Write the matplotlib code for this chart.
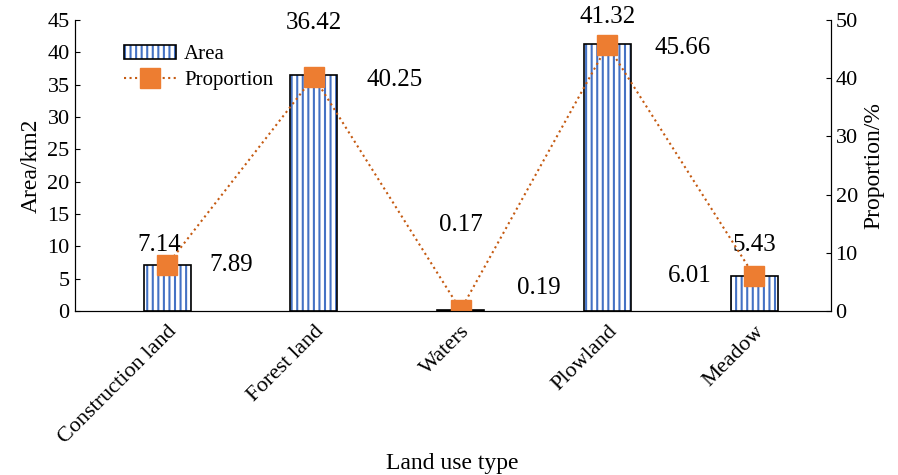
import numpy as np
import matplotlib.pyplot as plt
from matplotlib.patches import Patch

plt.rcParams['font.family'] = 'Liberation Serif'
plt.rcParams['hatch.linewidth'] = 1.5

categories = ['Construction land', 'Forest land', 'Waters', 'Plowland', 'Meadow']
area = [7.14, 36.42, 0.17, 41.32, 5.43]
proportion = [7.89, 40.25, 0.19, 45.66, 6.01]

# hand-placed label positions (x offset, y in area units), as in the source
area_lbl_pos = [(-0.05, 10.2), (0, 44.6), (0, 13.3), (0, 45.5), (0, 10.2)]
prop_lbl_pos = [(0.44, 7.1), (0.55, 35.7), (0.53, 3.55), (0.51, 40.6), (-0.44, 5.4)]

fig, ax = plt.subplots(figsize=(8.98, 4.75), dpi=100)
fig.subplots_adjust(left=0.083, right=0.925, top=0.958, bottom=0.345)
x = np.arange(len(categories))
# hatch in blue, outline in black
ax.bar(x, area, width=0.32, facecolor='white', edgecolor='#4472C4', linewidth=0,
       hatch='|||')
ax.bar(x, area, width=0.32, facecolor='none', edgecolor='black', linewidth=1.2)
ax.set_ylim(0, 45)
ax.set_yticks(range(0, 46, 5))
ax.set_xlim(-0.63, 4.52)
ax.set_xticks(x)
ax.set_xticklabels(categories, rotation=45, ha='right', rotation_mode='anchor', fontsize=16)
ax.tick_params(axis='y', labelsize=16, direction='in')
ax.tick_params(axis='x', length=0, pad=8)
ax.set_ylabel('Area/km2', fontsize=17)
ax.set_xlabel('Land use type', fontsize=17)
ax.spines['top'].set_visible(False)

ax2 = ax.twinx()
ax2.plot(x, proportion, linestyle=':', color='#C55A11', linewidth=1.5, marker='s',
         markersize=14, markerfacecolor='#ED7D31', markeredgecolor='#ED7D31', label='Proportion')
ax2.set_ylim(0, 50)
ax2.set_yticks(range(0, 51, 10))
ax2.tick_params(axis='y', labelsize=16, direction='in')
ax2.set_ylabel('Proportion/%', fontsize=17)
ax2.spines['top'].set_visible(False)

for i in range(len(categories)):
    ax.text(x[i] + area_lbl_pos[i][0], area_lbl_pos[i][1], f'{area[i]:.2f}',
            ha='center', va='center', fontsize=18)
    ax.text(x[i] + prop_lbl_pos[i][0], prop_lbl_pos[i][1], f'{proportion[i]:.2f}',
            ha='center', va='center', fontsize=18)

area_handle = Patch(facecolor='white', edgecolor='#4472C4', hatch='|||', linewidth=0)
outline = Patch(facecolor='none', edgecolor='black', linewidth=1.2)
h2, l2 = ax2.get_legend_handles_labels()
ax.legend([(area_handle, outline)] + h2, ['Area'] + l2, loc='upper left',
          bbox_to_anchor=(0.04, 0.98), frameon=False,
          fontsize=15, handlelength=2.5, labelspacing=0.3, handletextpad=0.4)

fig.savefig('out.png', dpi=100)
